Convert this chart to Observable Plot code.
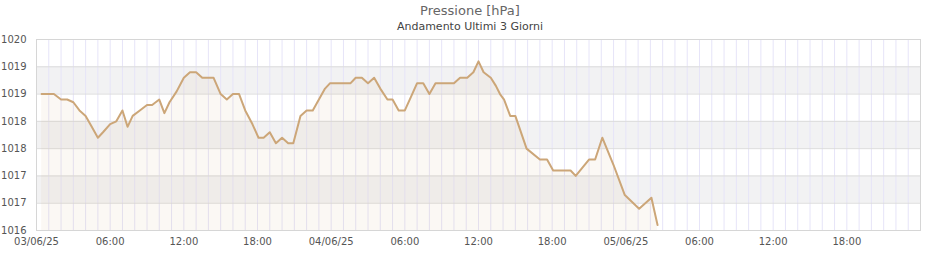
<!DOCTYPE html>
<html>
<head>
<meta charset="utf-8">
<script src="https://cdn.jsdelivr.net/npm/d3@7"></script>
<script src="https://cdn.jsdelivr.net/npm/@observablehq/plot@0.6"></script>
<style>
  body { margin: 0; background: #fff; font-family: "DejaVu Sans", sans-serif; }
  #wrap { width: 940px; }
  .title { height: 16px; line-height: 16px; margin-top: 3px; text-align: center; font-size: 13px; color: #666; }
  .subtitle { height: 14px; line-height: 14px; margin-top: 1px; text-align: center; font-size: 11px; color: #444; }
  svg { display: block; }
</style>
</head>
<body>
<div id="wrap">
  <div class="title">Pressione [hPa]</div>
  <div class="subtitle">Andamento Ultimi 3 Giorni</div>
  <div id="chart"></div>
</div>
<script>
// Observation times (local times, no shift applied)
const times = [
  "2025-06-03T00:25","2025-06-03T01:25","2025-06-03T02:00","2025-06-03T02:30","2025-06-03T03:00",
  "2025-06-03T03:30","2025-06-03T04:00","2025-06-03T04:30","2025-06-03T05:00","2025-06-03T05:25",
  "2025-06-03T06:00","2025-06-03T06:30","2025-06-03T07:00","2025-06-03T07:25","2025-06-03T07:50",
  "2025-06-03T08:25","2025-06-03T09:00","2025-06-03T09:25","2025-06-03T10:00","2025-06-03T10:25",
  "2025-06-03T10:50","2025-06-03T11:25","2025-06-03T12:00","2025-06-03T12:30","2025-06-03T13:00",
  "2025-06-03T13:30","2025-06-03T14:25","2025-06-03T15:00","2025-06-03T15:30","2025-06-03T16:00",
  "2025-06-03T16:30","2025-06-03T17:00","2025-06-03T17:35","2025-06-03T18:05","2025-06-03T18:30",
  "2025-06-03T19:00","2025-06-03T19:30","2025-06-03T20:00","2025-06-03T20:30","2025-06-03T20:55",
  "2025-06-03T21:30","2025-06-03T22:00","2025-06-03T22:30","2025-06-03T23:00","2025-06-03T23:30",
  "2025-06-03T23:55",
  "2025-06-04T01:35","2025-06-04T02:00","2025-06-04T02:30","2025-06-04T03:00","2025-06-04T03:30",
  "2025-06-04T04:00","2025-06-04T04:35","2025-06-04T05:00","2025-06-04T05:30","2025-06-04T06:00",
  "2025-06-04T06:30","2025-06-04T07:00","2025-06-04T07:30","2025-06-04T08:00","2025-06-04T08:30",
  "2025-06-04T10:00","2025-06-04T10:30","2025-06-04T11:05","2025-06-04T11:35","2025-06-04T12:00",
  "2025-06-04T12:25","2025-06-04T13:00","2025-06-04T13:25","2025-06-04T13:45","2025-06-04T14:05",
  "2025-06-04T14:35","2025-06-04T15:00","2025-06-04T15:55","2025-06-04T17:00","2025-06-04T17:35",
  "2025-06-04T18:05","2025-06-04T19:30","2025-06-04T19:55","2025-06-04T21:00","2025-06-04T21:30",
  "2025-06-04T22:05","2025-06-04T23:00","2025-06-04T23:55",
  "2025-06-05T01:05","2025-06-05T02:05","2025-06-05T02:35"
];
// Pressure values (hPa)
const pressure = [
  1018.5,1018.5,1018.4,1018.4,1018.35,
  1018.2,1018.1,1017.9,1017.7,1017.8,
  1017.95,1018.0,1018.2,1017.9,1018.1,
  1018.2,1018.3,1018.3,1018.4,1018.15,
  1018.35,1018.55,1018.8,1018.9,1018.9,
  1018.8,1018.8,1018.5,1018.4,1018.5,
  1018.5,1018.2,1017.95,1017.7,1017.7,
  1017.8,1017.6,1017.7,1017.6,1017.6,
  1018.1,1018.2,1018.2,1018.4,1018.6,
  1018.7,
  1018.7,1018.8,1018.8,1018.7,1018.8,
  1018.6,1018.4,1018.4,1018.2,1018.2,
  1018.45,1018.7,1018.7,1018.5,1018.7,
  1018.7,1018.8,1018.8,1018.9,1019.1,
  1018.9,1018.8,1018.65,1018.5,1018.4,
  1018.1,1018.1,1017.5,1017.3,1017.3,
  1017.1,1017.1,1017.0,1017.3,1017.3,
  1017.7,1017.2,1016.65,
  1016.4,1016.6,1016.1
];
// Axis definitions
const xStart = "2025-06-03T00:00";
const xEnd = "2025-06-06T00:00";
const yTicks = [1016, 1016.5, 1017, 1017.5, 1018, 1018.5, 1019, 1019.5];
const bandStarts = [1016.5, 1017.5, 1018.5];
const bandEnds = [1017, 1018, 1019];

const parse = s => new Date(s + ":00Z");
const data = times.map((t, i) => ({t: parse(t), v: pressure[i]}));
const x0 = parse(xStart), x1 = parse(xEnd);
const hourTicks = d3.utcHour.range(x0, d3.utcHour.offset(x1, 1));
const labelTicks = d3.utcHour.every(6).range(x0, x1);
const bands = bandStarts.map((s, i) => ({a: s, b: bandEnds[i]}));
const fmtDay = d3.utcFormat("%d/%m/%y"), fmtHour = d3.utcFormat("%H:%M");
const fmtX = d => (d.getUTCHours() === 0 ? fmtDay(d) : fmtHour(d));

const lineColor = "#cca678";

const chart = Plot.plot({
  width: 940,
  height: 226,
  marginTop: 5,
  marginBottom: 30,
  marginLeft: 36,
  marginRight: 20,
  style: {fontFamily: "DejaVu Sans, sans-serif", fontSize: "10px", color: "#555", background: "#fff"},
  x: {type: "utc", domain: [x0, x1], label: null},
  y: {domain: [1016, 1019.5], label: null},
  marks: [
    Plot.rect(bands, {y1: "a", y2: "b", fill: "#f2f2f3"}),
    Plot.ruleX(hourTicks, {stroke: "#e6e4f8", strokeWidth: 1}),
    Plot.ruleY(yTicks, {stroke: "#dcdcdc", strokeWidth: 1}),
    Plot.areaY(data, {x: "t", y1: 1016, y2: "v", fill: lineColor, fillOpacity: 0.08}),
    Plot.lineY(data, {x: "t", y: "v", stroke: lineColor, strokeWidth: 2}),
    Plot.frame({stroke: "#d6d6d6"}),
    Plot.axisY(yTicks, {tickSize: 0, tickPadding: 10, tickFormat: d => d.toFixed(0), fontSize: 10, label: null}),
    Plot.axisX(labelTicks, {tickSize: 0, tickPadding: 7, tickFormat: fmtX, fontSize: 10, label: null})
  ]
});
document.getElementById("chart").appendChild(chart);
</script>
</body>
</html>
